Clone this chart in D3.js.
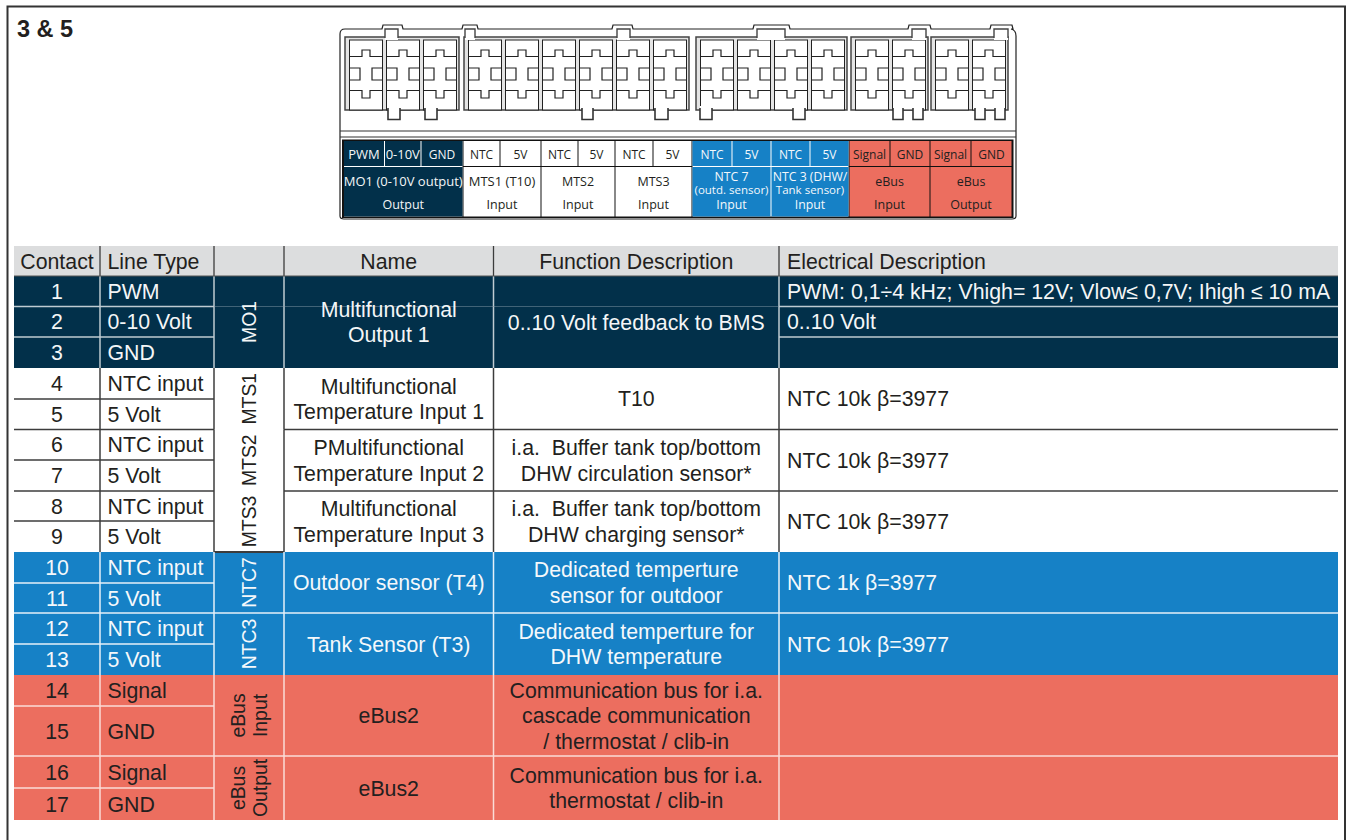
<!DOCTYPE html>
<html>
<head>
<meta charset="utf-8">
<style>
  html, body { margin: 0; padding: 0; background: #fff; overflow: hidden; }
  svg { display: block; }
  text { white-space: pre; }
</style>
</head>
<body>
<div id="chart"></div>
<script src="https://cdn.jsdelivr.net/npm/d3@7"></script>
<script>
const WIDTH = 1346
const HEIGHT = 840
const TABLE_FONT = '"Liberation Sans", Arial, sans-serif'
const LEGEND_FONT = '"Open Sans", sans-serif'
const DARK = '#231f20'

// table content
const headers = ['Contact', 'Line Type', '', 'Name', 'Function Description', 'Electrical Description']
const contacts = ['1', '2', '3', '4', '5', '6', '7', '8', '9', '10', '11', '12', '13', '14', '15', '16', '17']
const lineTypes = ['PWM', '0-10 Volt', 'GND', 'NTC input', '5 Volt', 'NTC input', '5 Volt', 'NTC input', '5 Volt',
  'NTC input', '5 Volt', 'NTC input', '5 Volt', 'Signal', 'GND', 'Signal', 'GND']
const rowBands = ['navy', 'navy', 'navy', 'white', 'white', 'white', 'white', 'white', 'white',
  'blue', 'blue', 'blue', 'blue', 'red', 'red', 'red', 'red']

// merged cells: [first row, last row + 1, lines]
const connectorCells = [
  [0, 3, ['MO1']], [3, 5, ['MTS1']], [5, 7, ['MTS2']], [7, 9, ['MTS3']],
  [9, 11, ['NTC7']], [11, 13, ['NTC3']], [13, 15, ['eBus', 'Input']], [15, 17, ['eBus', 'Output']]
]
const nameCells = [
  [0, 3, ['Multifunctional', 'Output 1']],
  [3, 5, ['Multifunctional', 'Temperature Input 1']],
  [5, 7, ['PMultifunctional', 'Temperature Input 2']],
  [7, 9, ['Multifunctional', 'Temperature Input 3']],
  [9, 11, ['Outdoor sensor (T4)']],
  [11, 13, ['Tank Sensor (T3)']],
  [13, 15, ['eBus2']],
  [15, 17, ['eBus2']]
]
const functionCells = [
  [0, 3, ['0..10 Volt feedback to BMS']],
  [3, 5, ['T10']],
  [5, 7, ['i.a.  Buffer tank top/bottom', 'DHW circulation sensor*']],
  [7, 9, ['i.a.  Buffer tank top/bottom', 'DHW charging sensor*']],
  [9, 11, ['Dedicated temperture', 'sensor for outdoor']],
  [11, 13, ['Dedicated temperture for', 'DHW temperature']],
  [13, 15, ['Communication bus for i.a.', 'cascade communication', '/ thermostat / clib-in']],
  [15, 17, ['Communication bus for i.a.', 'thermostat / clib-in']]
]
const electricalCells = [
  [0, 1, ['PWM: 0,1÷4 kHz; Vhigh= 12V; Vlow≤ 0,7V; Ihigh ≤ 10 mA']],
  [1, 2, ['0..10 Volt']],
  [2, 3, ['']],
  [3, 5, ['NTC 10k β=3977']],
  [5, 7, ['NTC 10k β=3977']],
  [7, 9, ['NTC 10k β=3977']],
  [9, 11, ['NTC 1k β=3977']],
  [11, 13, ['NTC 10k β=3977']],
  [13, 15, ['']],
  [15, 17, ['']]
]

// connector legend content
const pinLabels = ['PWM', '0-10V', 'GND', 'NTC', '5V', 'NTC', '5V', 'NTC', '5V',
  'NTC', '5V', 'NTC', '5V', 'Signal', 'GND', 'Signal', 'GND']
const pinBands = ['navy', 'navy', 'navy', 'white', 'white', 'white', 'white', 'white', 'white',
  'blue', 'blue', 'blue', 'blue', 'red', 'red', 'red', 'red']
const legendGroups = [
  [0, 3, ['MO1 (0-10V output)', 'Output']],
  [3, 5, ['MTS1 (T10)', 'Input']],
  [5, 7, ['MTS2', 'Input']],
  [7, 9, ['MTS3', 'Input']],
  [9, 11, ['NTC 7', '(outd. sensor)', 'Input']],
  [11, 13, ['NTC 3 (DHW/', 'Tank sensor)', 'Input']],
  [13, 15, ['eBus', 'Input']],
  [15, 17, ['eBus', 'Output']]
]

// layout
const COLUMN_EDGES = [14, 100, 214, 284, 493.5, 779, 1338]
const ROW_EDGES = [276, 306.5, 337, 368, 399, 429.5, 460, 491, 521, 552, 583, 613, 644, 675, 706, 756, 788, 820]
const LEGEND_EDGES = [343.5, 384.5, 421, 463, 500, 541, 578, 615, 653, 692, 732, 771, 810, 849, 890, 930, 971, 1012]
const PIN_GROUPS = [[0, 3, 366], [3, 9, 485], [9, 13, 717], [13, 15, 872], [15, 17, 952]]
const PIN_PITCH = 37
const TOP_BUMPS = [[382, 403], [462, 478], [612, 633], [753, 790], [908, 931], [990, 1013]]
const TOP_KEYS = [[385, 398], [465, 475], [617, 630], [757, 785], [912, 926], [994, 1008]]
const BOTTOM_TABS = [[388, 400], [425, 437], [582, 593], [655, 668], [700, 712], [793, 805], [893, 903], [913, 923], [975, 985], [995, 1005]]

const xCol = d3.scaleOrdinal(d3.range(COLUMN_EDGES.length), COLUMN_EDGES)
const yRow = d3.scaleOrdinal(d3.range(ROW_EDGES.length), ROW_EDGES)
const xLegend = d3.scaleOrdinal(d3.range(LEGEND_EDGES.length), LEGEND_EDGES)
const bandFill = d3.scaleOrdinal(['navy', 'white', 'blue', 'red'], ['#02304a', '#ffffff', '#1681c6', '#ec6e5f'])
const bandText = d3.scaleOrdinal(['navy', 'white', 'blue', 'red'], ['#f4f6f7', DARK, '#f4f8fb', DARK])
const bandLine = d3.scaleOrdinal(['navy', 'white', 'blue', 'red'], ['#bfcbd2', '#3c3c3c', '#e6f0f8', '#fbdcd7'])

const svg = d3.select('#chart').append('svg')
  .attr('width', WIDTH)
  .attr('height', HEIGHT)

// outer frame, open at the bottom
svg.append('path')
  .attr('d', `M7.5,${HEIGHT}V6.5H1345V${HEIGHT}`)
  .attr('fill', 'none')
  .attr('stroke', '#333')
  .attr('stroke-width', 2)

svg.append('text')
  .attr('x', 17)
  .attr('y', 37)
  .attr('font-family', TABLE_FONT)
  .attr('font-size', 23.5)
  .attr('font-weight', 'bold')
  .attr('fill', DARK)
  .text('3 & 5')

drawHousing(svg.append('g'))
drawLegend(svg.append('g'))
drawTable(svg.append('g'))

function pinCenters () {
  const centers = []
  PIN_GROUPS.forEach(([first, last, start]) => {
    d3.range(first, last).forEach((pin, i) => centers.push({ pin, cx: start + i * PIN_PITCH }))
  })
  return centers
}

function drawHousing (g) {
  const line = d3.path()
  line.moveTo(340, 216)
  line.lineTo(340, 34)
  line.quadraticCurveTo(340, 29, 345, 29)
  TOP_BUMPS.forEach(([a, b]) => {
    line.lineTo(a, 29)
    line.lineTo(a + 1, 25)
    line.lineTo(b - 1, 25)
    line.lineTo(b, 29)
  })
  line.lineTo(1011, 29)
  line.quadraticCurveTo(1016, 30, 1016, 36)
  line.lineTo(1016, 216)
  line.quadraticCurveTo(1016, 219, 1012, 219)
  line.lineTo(344, 219)
  line.quadraticCurveTo(340, 219, 340, 216)
  g.append('path')
    .attr('d', line.toString())
    .attr('fill', '#fff')
    .attr('stroke', '#222')
    .attr('stroke-width', 1.2)

  // group frames
  g.selectAll('rect.pin-group')
    .data(PIN_GROUPS)
    .join('rect')
    .attr('class', 'pin-group')
    .attr('x', d => d[2] - 21)
    .attr('y', 37)
    .attr('width', d => (d[1] - d[0] - 1) * PIN_PITCH + 40)
    .attr('height', 73)
    .attr('fill', '#e4e4e4')
    .attr('stroke', '#444')
    .attr('stroke-width', 1.5)

  const pins = g.selectAll('g.pin')
    .data(pinCenters())
    .join('g')
    .attr('class', 'pin')

  pins.append('rect')
    .attr('x', d => d.cx - 16.5)
    .attr('y', 40)
    .attr('width', 33)
    .attr('height', 70)
    .attr('fill', '#fff')
    .attr('stroke', '#222')
    .attr('stroke-width', 1)

  pins.append('path')
    .attr('d', d => {
      const c = d.cx
      return `M${c - 16},56.5H${c - 4}V50H${c + 4}V56.5H${c + 16}` +
        `M${c - 16},90.5H${c - 4}V98H${c + 4}V90.5H${c + 16}` +
        `M${c - 16},68H${c - 6}V80H${c - 16}` +
        `M${c + 16},68H${c + 6}V80H${c + 16}`
    })
    .attr('fill', 'none')
    .attr('stroke', '#222')
    .attr('stroke-width', 1.2)

  // keys cut into the top of the pin row
  g.selectAll('rect.key')
    .data(TOP_KEYS)
    .join('rect')
    .attr('class', 'key')
    .attr('x', d => d[0])
    .attr('y', 29)
    .attr('width', d => d[1] - d[0])
    .attr('height', 11)
    .attr('fill', '#fff')
  g.selectAll('path.key-line')
    .data(TOP_KEYS)
    .join('path')
    .attr('class', 'key-line')
    .attr('d', d => `M${d[0]},38V29H${d[1]}V38`)
    .attr('fill', 'none')
    .attr('stroke', '#444')
    .attr('stroke-width', 1.4)

  // latch tabs below the pin row
  g.selectAll('rect.tab-fill')
    .data(BOTTOM_TABS)
    .join('rect')
    .attr('class', 'tab-fill')
    .attr('x', d => d[0])
    .attr('y', 106)
    .attr('width', d => d[1] - d[0])
    .attr('height', 13)
    .attr('fill', '#fff')
  g.selectAll('path.tab')
    .data(BOTTOM_TABS)
    .join('path')
    .attr('class', 'tab')
    .attr('d', d => `M${d[0]},108V119.5H${d[1]}V108`)
    .attr('fill', 'none')
    .attr('stroke', '#333')
    .attr('stroke-width', 1.6)

  g.selectAll('line.rail')
    .data([131, 137])
    .join('line')
    .attr('class', 'rail')
    .attr('x1', 340)
    .attr('x2', 1016)
    .attr('y1', d => d)
    .attr('y2', d => d)
    .attr('stroke', '#333')
    .attr('stroke-width', 1.1)
}

function drawLegend (g) {
  const TOP = 141
  const MID = 167
  const BOTTOM = 216.5

  g.append('rect')
    .attr('x', xLegend(0) - 1.5)
    .attr('y', TOP - 1.5)
    .attr('width', xLegend(17) - xLegend(0) + 3)
    .attr('height', BOTTOM - TOP + 3)
    .attr('fill', '#111')

  // navy and blue blocks have white dividers instead of black ones
  g.selectAll('rect.light-grid')
    .data([[0, 3], [9, 13]])
    .join('rect')
    .attr('class', 'light-grid')
    .attr('x', d => xLegend(d[0]) + 0.5)
    .attr('y', TOP)
    .attr('width', d => xLegend(d[1]) - xLegend(d[0]) - 1)
    .attr('height', BOTTOM - TOP)
    .attr('fill', '#fff')

  const pinCell = g.selectAll('g.pin-cell')
    .data(pinLabels.map((label, i) => ({ label, i, band: pinBands[i] })))
    .join('g')
    .attr('class', 'pin-cell')

  pinCell.append('rect')
    .attr('x', d => xLegend(d.i) + 0.5)
    .attr('y', TOP)
    .attr('width', d => xLegend(d.i + 1) - xLegend(d.i) - 1)
    .attr('height', MID - TOP - 1)
    .attr('fill', d => bandFill(d.band))

  pinCell.append('text')
    .attr('x', d => (xLegend(d.i) + xLegend(d.i + 1)) / 2)
    .attr('y', 159)
    .attr('text-anchor', 'middle')
    .attr('font-family', LEGEND_FONT)
    .attr('font-size', d => d.label === 'PWM' || d.label === '0-10V' ? 13 : 12)
    .attr('fill', d => bandText(d.band))
    .text(d => d.label)

  const groupCell = g.selectAll('g.group-cell')
    .data(legendGroups)
    .join('g')
    .attr('class', 'group-cell')

  groupCell.append('rect')
    .attr('x', d => xLegend(d[0]) + 0.5)
    .attr('y', MID)
    .attr('width', d => xLegend(d[1]) - xLegend(d[0]) - 1)
    .attr('height', BOTTOM - MID)
    .attr('fill', d => bandFill(pinBands[d[0]]))

  groupCell.each(function (d) {
    const cx = (xLegend(d[0]) + xLegend(d[1])) / 2
    const lines = d[2]
    const ys = lines.length === 3 ? [181, 194, 209] : [186, 209]
    d3.select(this).selectAll('text')
      .data(lines)
      .join('text')
      .attr('x', cx)
      .attr('y', (l, i) => ys[i])
      .attr('text-anchor', 'middle')
      .attr('font-family', LEGEND_FONT)
      .attr('font-size', (l, i) => {
        if (lines.length === 3) return i === 1 ? 11.5 : 12.3
        return d[0] < 5 && i === 0 ? 13 : 12.5
      })
      .attr('fill', bandText(pinBands[d[0]]))
      .text(l => l)
  })
}

function drawTable (g) {
  const FONT_SIZE = 21.3
  const ROTATED_SIZE = 19.4
  const LINE_GAP = 25.5
  const lineColor = row => bandLine(rowBands[row])

  // header
  g.append('rect')
    .attr('x', xCol(0))
    .attr('y', 246)
    .attr('width', xCol(6) - xCol(0))
    .attr('height', ROW_EDGES[0] - 246)
    .attr('fill', '#dcddde')

  g.selectAll('text.header')
    .data(headers)
    .join('text')
    .attr('class', 'header')
    .attr('x', (d, i) => i === 1 ? xCol(1) + 7.5 : i === 5 ? xCol(5) + 8 : (xCol(i) + xCol(i + 1)) / 2)
    .attr('y', 269)
    .attr('text-anchor', (d, i) => i === 1 || i === 5 ? 'start' : 'middle')
    .attr('font-family', TABLE_FONT)
    .attr('font-size', FONT_SIZE)
    .attr('fill', DARK)
    .text(d => d)

  // row backgrounds
  g.selectAll('rect.row')
    .data(rowBands)
    .join('rect')
    .attr('class', 'row')
    .attr('x', xCol(0))
    .attr('y', (d, i) => yRow(i))
    .attr('width', xCol(6) - xCol(0))
    .attr('height', (d, i) => yRow(i + 1) - yRow(i))
    .attr('fill', d => bandFill(d))

  // contact and line type columns
  const rows = g.selectAll('g.row-cells')
    .data(contacts.map((contact, i) => ({ contact, lineType: lineTypes[i], i, band: rowBands[i] })))
    .join('g')
    .attr('class', 'row-cells')

  const baseline = (top, bottom) => (yRow(top) + yRow(bottom)) / 2 + FONT_SIZE * 0.36

  rows.append('text')
    .attr('x', (xCol(0) + xCol(1)) / 2)
    .attr('y', d => baseline(d.i, d.i + 1))
    .attr('text-anchor', 'middle')
    .attr('font-family', TABLE_FONT)
    .attr('font-size', FONT_SIZE)
    .attr('fill', d => bandText(d.band))
    .text(d => d.contact)

  rows.append('text')
    .attr('x', xCol(1) + 7.5)
    .attr('y', d => baseline(d.i, d.i + 1))
    .attr('font-family', TABLE_FONT)
    .attr('font-size', FONT_SIZE)
    .attr('fill', d => bandText(d.band))
    .text(d => d.lineType)

  // horizontal rules under each row of the first two columns
  g.selectAll('line.row-rule')
    .data(d3.range(1, 17).filter(i => i !== 3 && i !== 9 && i !== 13))
    .join('line')
    .attr('class', 'row-rule')
    .attr('x1', xCol(0))
    .attr('x2', xCol(2))
    .attr('y1', i => yRow(i))
    .attr('y2', i => yRow(i))
    .attr('stroke', i => lineColor(i))
    .attr('stroke-width', 1.3)

  // rules under merged cells
  const mergedRules = []
  nameCells.forEach(d => {
    if (d[1] < 17 && rowBands[d[1]] === rowBands[d[0]]) {
      mergedRules.push({ row: d[1], from: 3, to: 6 })
      if (rowBands[d[0]] !== 'white') mergedRules.push({ row: d[1], from: 2, to: 3 })
    }
  })
  mergedRules.push({ row: 1, from: 5, to: 6 }, { row: 2, from: 5, to: 6 })
  mergedRules.push({ row: 9, from: 2, to: 3 })
  g.selectAll('line.merged-rule')
    .data(mergedRules)
    .join('line')
    .attr('class', 'merged-rule')
    .attr('x1', d => xCol(d.from))
    .attr('x2', d => xCol(d.to))
    .attr('y1', d => yRow(d.row))
    .attr('y2', d => yRow(d.row))
    .attr('stroke', d => lineColor(d.row - 1))
    .attr('stroke-width', d => d.row === 9 ? 2 : 1.3)

  // column separators, band by band
  const separators = []
  d3.range(1, 6).forEach(col => {
    rowBands.forEach((band, row) => separators.push({ col, row, band }))
  })
  g.selectAll('line.separator')
    .data(separators)
    .join('line')
    .attr('class', 'separator')
    .attr('x1', d => xCol(d.col))
    .attr('x2', d => xCol(d.col))
    .attr('y1', d => yRow(d.row))
    .attr('y2', d => yRow(d.row + 1))
    .attr('stroke', d => bandLine(d.band))
    .attr('stroke-width', 1.5)

  g.selectAll('line.header-separator')
    .data(d3.range(1, 6))
    .join('line')
    .attr('class', 'header-separator')
    .attr('x1', d => xCol(d))
    .attr('x2', d => xCol(d))
    .attr('y1', 246)
    .attr('y2', ROW_EDGES[0])
    .attr('stroke', '#3c3c3c')
    .attr('stroke-width', 1.3)

  g.append('line')
    .attr('x1', xCol(0))
    .attr('x2', xCol(6))
    .attr('y1', ROW_EDGES[0])
    .attr('y2', ROW_EDGES[0])
    .attr('stroke', '#555')
    .attr('stroke-width', 1)

  // merged text columns
  drawCenteredCells(g, nameCells, 3, FONT_SIZE, LINE_GAP)
  drawCenteredCells(g, functionCells, 4, FONT_SIZE, LINE_GAP)

  g.selectAll('text.electrical')
    .data(electricalCells)
    .join('text')
    .attr('class', 'electrical')
    .attr('x', xCol(5) + 8)
    .attr('y', d => baseline(d[0], d[1]))
    .attr('font-family', TABLE_FONT)
    .attr('font-size', FONT_SIZE)
    .attr('fill', d => bandText(rowBands[d[0]]))
    .text(d => d[2][0])

  // rotated connector names
  const connector = g.selectAll('g.connector')
    .data(connectorCells)
    .join('g')
    .attr('class', 'connector')
    .attr('transform', d => `translate(${(xCol(2) + xCol(3)) / 2},${(yRow(d[0]) + yRow(d[1])) / 2}) rotate(-90)`)

  connector.selectAll('text')
    .data(d => d[2].map((l, i) => ({ l, i, n: d[2].length, band: rowBands[d[0]] })))
    .join('text')
    .attr('x', 0)
    .attr('y', d => d.n === 1 ? ROTATED_SIZE * 0.36 : (d.i === 0 ? -4.5 : 17.5))
    .attr('text-anchor', 'middle')
    .attr('font-family', TABLE_FONT)
    .attr('font-size', ROTATED_SIZE)
    .attr('fill', d => bandText(d.band))
    .text(d => d.l)
}

function drawCenteredCells (g, cells, col, fontSize, lineGap) {
  const cell = g.selectAll(`g.col-${col}`)
    .data(cells)
    .join('g')
    .attr('class', `col-${col}`)
  cell.selectAll('text')
    .data(d => d[2].map((l, i) => ({ l, i, n: d[2].length, top: d[0], bottom: d[1] })))
    .join('text')
    .attr('x', (xCol(col) + xCol(col + 1)) / 2)
    .attr('y', d => (yRow(d.top) + yRow(d.bottom)) / 2 + (d.i - (d.n - 1) / 2) * lineGap + fontSize * 0.36)
    .attr('text-anchor', 'middle')
    .attr('font-family', TABLE_FONT)
    .attr('font-size', fontSize)
    .attr('fill', d => bandText(rowBands[d.top]))
    .text(d => d.l)
}
</script>
</body>
</html>
